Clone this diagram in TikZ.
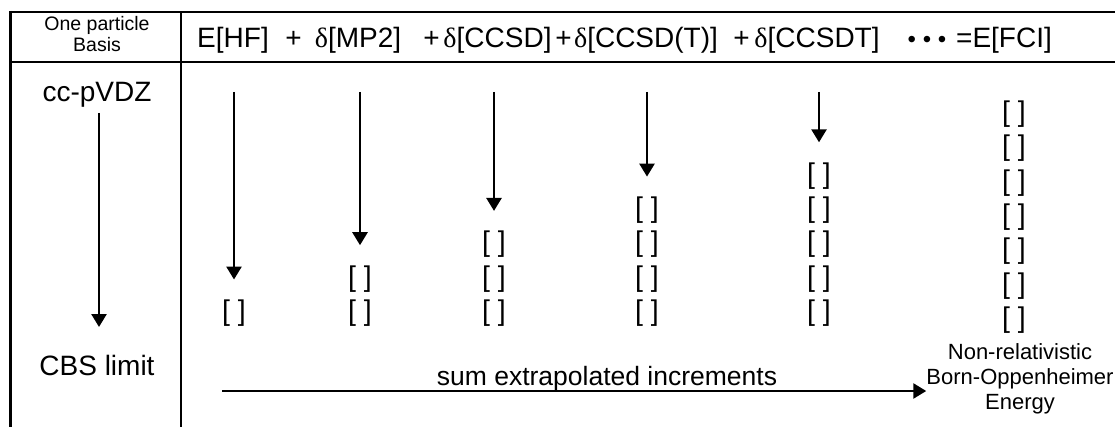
\documentclass[tikz,border=0pt]{standalone}
\usepackage{fontspec}
\setmainfont{Liberation Sans}
\newfontfamily\greekfont{Liberation Serif}
\usetikzlibrary{arrows.meta}

\newcommand{\dlt}{{\greekfont δ}}

\begin{document}
\begin{tikzpicture}[x=1pt,y=-1pt,
  rule/.style={line width=2pt},
  flow/.style={line width=2.6pt,-{Triangle[length=13pt,width=15pt]}},
  term/.style={anchor=base,inner sep=0pt,font=\fontsize{28}{30}\selectfont},
  big/.style={anchor=base,inner sep=0pt,font=\fontsize{28}{30}\selectfont},
  small/.style={anchor=base,inner sep=0pt,font=\fontsize{19.5}{21}\selectfont},
  slot/.style={inner sep=0pt,font=\fontsize{28.5}{30}\selectfont}
]
\useasboundingbox (0,0) rectangle (1115,427);

% table rules
\draw[line width=3pt] (10,11) -- (10,427);
\draw[line width=2.5pt] (9,12) -- (1115,12);
\draw[rule] (9,62) -- (1115,62);
\draw[rule] (181,12) -- (181,427);

% header, left cell
\node[small] (hd1) at (97,31) {One particle};
\node[small] (hd2) at (97,52) {Basis};

% header, energy sum
\node[term] (t1)  at (233,48) {E[HF]};
\node[term] (p1)  at (293.5,48) {+};
\node[term] (t2)  at (358,48) {\dlt[MP2]};
\node[term] (p2)  at (431.5,48) {+};
\node[term] (t3)  at (497.5,48) {\dlt[CCSD]};
\node[term] (p3)  at (563.5,48) {+};
\node[term] (t4)  at (646,48) {\dlt[CCSD(T)]};
\node[term] (p4)  at (741.5,48) {+};
\node[term] (t5)  at (817,48) {\dlt[CCSDT]};
\node[term,font=\fontsize{24}{26}\selectfont] (dots) at (927,48) {• • •};
\node[term] (t6)  at (1004,48) {=E[FCI]};

% basis-set axis
\node[big] (vdz) at (97,102) {cc-pVDZ};
\node[big] (cbs) at (97,375) {CBS limit};
\coordinate (vdzs) at (99,113);
\coordinate (cbse) at (99,327);
\draw[flow] (vdzs) -- (cbse);

% bracket columns: x, count, bottom row
\foreach \c/\x/\n/\yb in {1/234/1/313,2/360/2/313,3/494/3/313,4/647/4/313,5/819/5/313,6/1014/7/320}{
  \foreach \k in {1,...,\n}{
    \node[slot] (b\c-\k) at (\x,{\yb-(\k-1)*34.3}) {[ ]};
  }
}

% convergence arrows down each column
\foreach \c/\x/\n in {1/234/1,2/360/2,3/494/3,4/647/4,5/819/5}{
  \coordinate (a\c) at (\x,92);
  \draw[flow,shorten >=20pt] (a\c) -- (b\c-\n.north);
}

% final energy
\node[inner sep=0pt,align=center,font=\fontsize{22}{25}\selectfont] (fin) at (1020,379)
  {Non-relativistic\\Born-Oppenheimer\\Energy};

% summation arrow
\coordinate (sums) at (222,391);
\draw[flow] (sums) -- (fin.west |- sums);
\node[anchor=base,inner sep=0pt,font=\fontsize{26.5}{28}\selectfont] (sumlab) at (607,385)
  {sum extrapolated increments};
\end{tikzpicture}
\end{document}
